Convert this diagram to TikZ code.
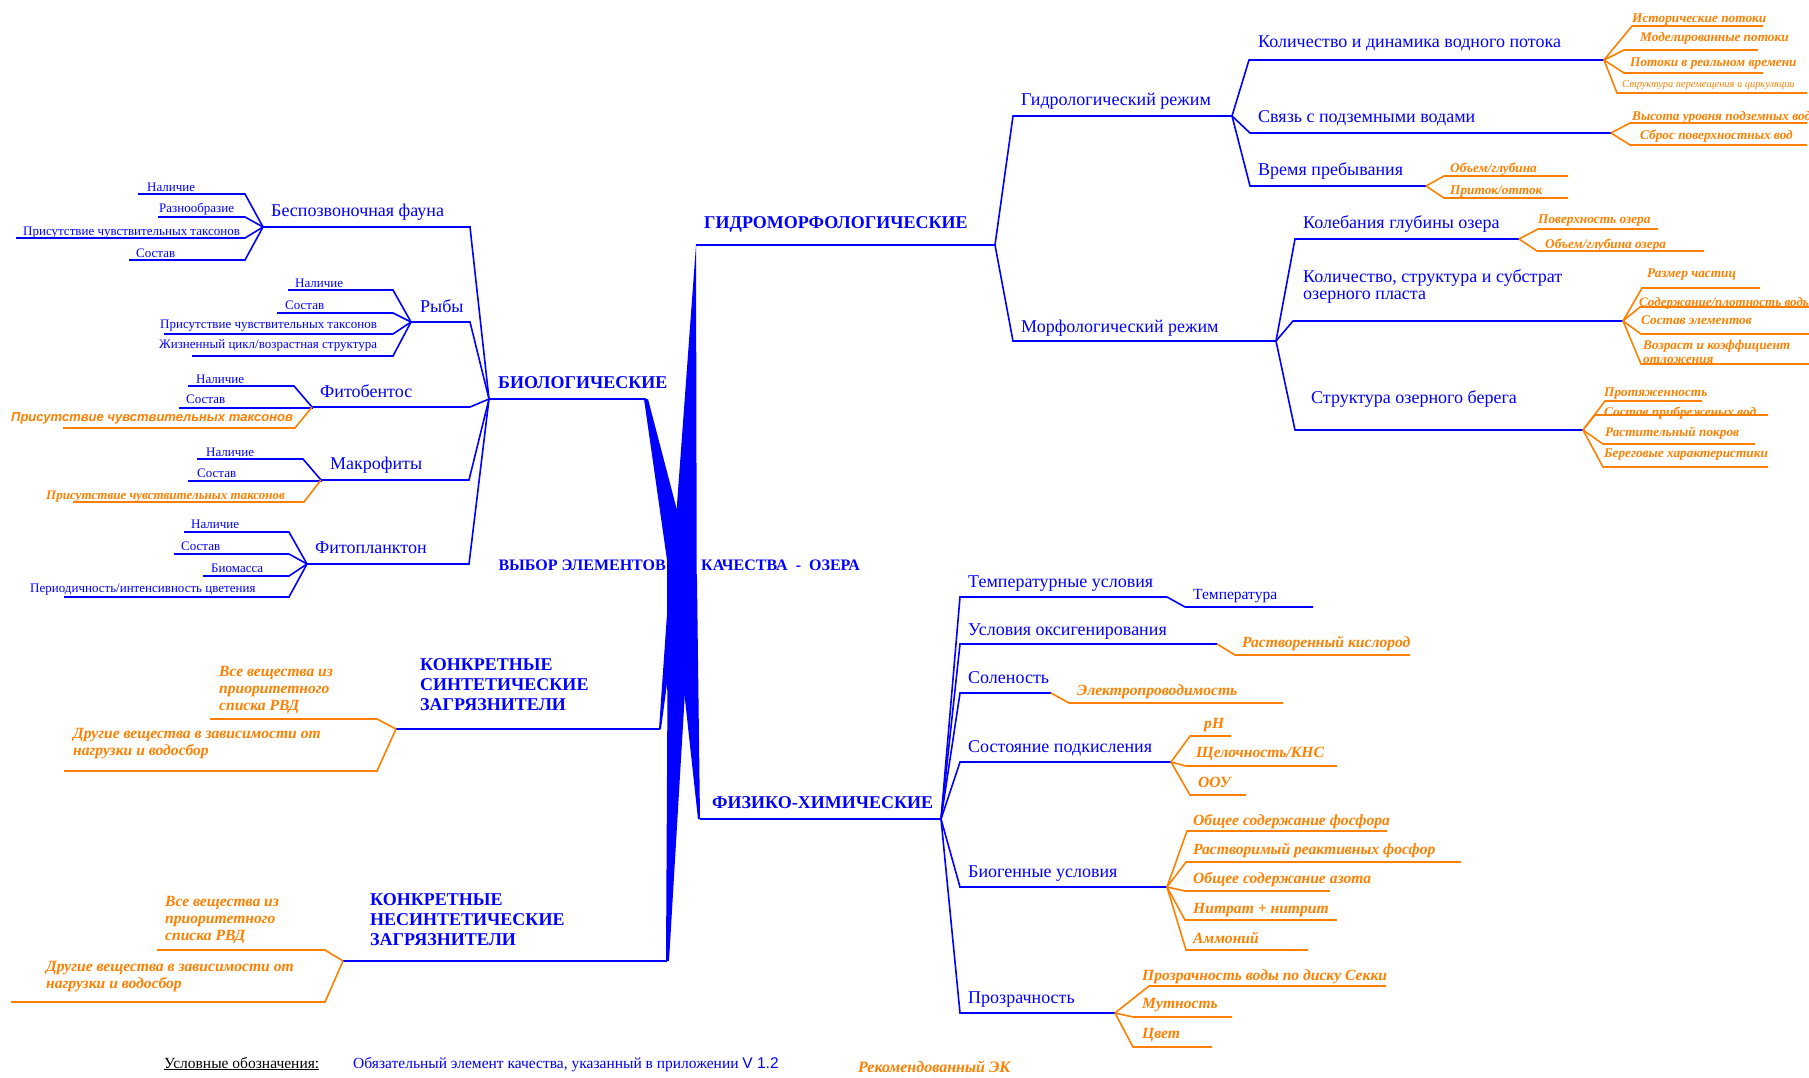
\documentclass[tikz,border=0pt]{standalone}
\usepackage{fontspec}
\usetikzlibrary{calc}
\setmainfont{Liberation Serif}
\newfontfamily\mmsans{Liberation Sans}
\definecolor{bluC}{RGB}{0,0,255}
\definecolor{orC}{RGB}{255,128,0}
% #1 name, #2 parent fork, #3 x at parent side, #4 x at free end, #5 line y, #6 text x, #7 text baseline y (last line), #8 text style, #9 text
\newcommand\mmB[9]{%
  \coordinate (#1a) at (#3,#5);
  \coordinate (#1b) at (#4,#5);
  \node[anchor=base west,#8] (#1) at (#6,#7) {#9};
  \draw[lnB] (#2) -- (#1a) -- (#1b);}
\newcommand\mmO[9]{%
  \coordinate (#1a) at (#3,#5);
  \coordinate (#1b) at (#4,#5);
  \node[anchor=base west,#8] (#1) at (#6,#7) {#9};
  \draw[lnO] (#2) -- (#1a) -- (#1b);}
\tikzset{
  lnB/.style={draw=bluC, line width=1.6pt},
  lnO/.style={draw=orC, line width=1.6pt},
  wedge/.style={fill=bluC},
  tL1/.style={inner sep=0pt, text=bluC, align=left, font=\bfseries\fontsize{18}{19.8}\selectfont},
  tC/.style={inner sep=0pt, text=bluC, font=\bfseries\fontsize{16}{18}\selectfont},
  tL2/.style={inner sep=0pt, text=bluC, align=left, font=\fontsize{18}{17}\selectfont},
  tS13/.style={inner sep=0pt, text=bluC, font=\fontsize{13}{15}\selectfont},
  tT15/.style={inner sep=0pt, text=bluC, font=\fontsize{15.5}{17}\selectfont},
  oS14/.style={inner sep=0pt, text=orC, align=left, font=\bfseries\itshape\fontsize{13.3}{14}\selectfont},
  oS13/.style={inner sep=0pt, text=orC, align=left, font=\bfseries\itshape\fontsize{13}{14}\selectfont},
  oT10/.style={inner sep=0pt, text=orC, font=\itshape\fontsize{10.4}{12}\selectfont},
  oM16/.style={inner sep=0pt, text=orC, align=left, font=\bfseries\itshape\fontsize{15.6}{16.7}\selectfont},
  oSans/.style={inner sep=0pt, text=orC, font=\mmsans\bfseries\itshape\fontsize{13}{15}\selectfont},
  lgK/.style={inner sep=0pt, text=black, font=\fontsize{15.5}{17}\selectfont},
  lgB/.style={inner sep=0pt, text=bluC, font=\fontsize{15.5}{17}\selectfont},
  lgO/.style={inner sep=0pt, text=orC, font=\bfseries\itshape\fontsize{16}{17}\selectfont}
}
\begin{document}
\begin{tikzpicture}[x=1pt,y=-1pt]
\useasboundingbox (0,0) rectangle (1809,1078);
\clip (0,0) rectangle (1809,1078);
\fill[white] (0,0) rectangle (1809,1078);

% ---------- main branches (apex / fork coordinates)
\coordinate (gA) at (696,245); \coordinate (gF) at (995,245);
\coordinate (bA) at (646,399); \coordinate (bF) at (489,399);
\coordinate (sA) at (660,729); \coordinate (sF) at (396,729);
\coordinate (pA) at (700,819); \coordinate (pF) at (941,819);
\coordinate (nA) at (667,961); \coordinate (nF) at (343,961);

% ---------- central tapered trunk
\fill[wedge] (gA) -- (697,690) -- (670,600) -- cycle;
\fill[wedge] ($(bA)+(-2,0)$) -- ($(bA)+(2,0)$) -- (690,560) -- (667,560) -- cycle;
\fill[wedge] ($(pA)+(-2,0)$) -- (pA) -- (697,580) -- (672,580) -- cycle;
\fill[wedge] ($(nA)+(-1,0)$) -- ($(nA)+(2,0)$) -- (691,590) -- (668,590) -- cycle;
\fill[wedge] ($(sA)+(-1,0)$) -- ($(sA)+(1,0)$) -- (678,600) -- (668,600) -- cycle;
\fill[wedge] (667,545) rectangle (696,690);

\node[tC,anchor=base east] (cL) at (666,570) {ВЫБОР ЭЛЕМЕНТОВ};
\node[tC,anchor=base west] (cR) at (701,570) {КАЧЕСТВА\hspace{4pt} - \hspace{4pt}ОЗЕРА};

\draw[lnB] (gA) -- (gF);
\draw[lnB] (bA) -- (bF);
\draw[lnB] (sA) -- (sF);
\draw[lnB] (pA) -- (pF);
\draw[lnB] (nA) -- (nF);
\node[tL1,anchor=base west] (gT) at (704,228) {ГИДРОМОРФОЛОГИЧЕСКИЕ};
\node[tL1,anchor=base west] (bT) at (498,388) {БИОЛОГИЧЕСКИЕ};
\node[tL1,anchor=base west] (pT) at (712,808) {ФИЗИКО-ХИМИЧЕСКИЕ};
\node[tL1,anchor=base west] (sT) at (420,710) {КОНКРЕТНЫЕ\\СИНТЕТИЧЕСКИЕ\\ЗАГРЯЗНИТЕЛИ};
\node[tL1,anchor=base west] (nT) at (370,945) {КОНКРЕТНЫЕ\\НЕСИНТЕТИЧЕСКИЕ\\ЗАГРЯЗНИТЕЛИ};

% ---------- hydromorphological
\mmB{hyd}{gF}{1013}{1232}{116}{1021}{106}{tL2}{Гидрологический режим}
\mmB{mor}{gF}{1013}{1276}{341}{1021}{332}{tL2}{Морфологический режим}

\mmB{kol}{hydb}{1249}{1604}{60}{1258}{48}{tL2}{Количество и динамика водного потока}
\mmB{svz}{hydb}{1250}{1611}{133}{1258}{123}{tL2}{Связь с подземными водами}
\mmB{vrm}{hydb}{1250}{1426}{186}{1258}{176}{tL2}{Время пребывания}

\mmO{ist}{kolb}{1632}{1763}{26}{1632}{23}{oS14}{Исторические потоки}
\mmO{mod}{kolb}{1624}{1758}{50}{1640}{42}{oS14}{Моделированные потоки}
\mmO{rvr}{kolb}{1624}{1763}{73}{1630}{67}{oS14}{Потоки в реальном времени}
\mmO{str}{kolb}{1617}{1807}{93}{1622}{88}{oT10}{Структура перемещения и циркуляции}

\mmO{vys}{svzb}{1630}{1807}{123}{1632}{121}{oS14}{Высота уровня подземных вод}
\mmO{sbr}{svzb}{1630}{1807}{145}{1640}{140}{oS14}{Сброс поверхностных вод}

\mmO{obg}{vrmb}{1444}{1568}{176}{1450}{173}{oS14}{Объем/глубина}
\mmO{pri}{vrmb}{1444}{1568}{198}{1450}{195}{oS14}{Приток/отток}

\mmB{kgo}{morb}{1295}{1519}{239}{1303}{229}{tL2}{Колебания глубины озера}
\mmB{kss}{morb}{1293}{1623}{321}{1303}{299}{tL2}{Количество, структура и субстрат\\озерного пласта}
\mmB{sob}{morb}{1295}{1583}{430}{1311}{403}{tL2}{Структура озерного берега}

\mmO{pov}{kgob}{1538}{1658}{229}{1538}{223}{oS14}{Поверхность озера}
\mmO{obo}{kgob}{1537}{1704}{251}{1545}{248}{oS14}{Объем/глубина озера}

\mmO{raz}{kssb}{1642}{1760}{288}{1647}{277}{oS14}{Размер частиц}
\mmO{sod}{kssb}{1640}{1809}{307}{1639}{306}{oS13}{Содержание/плотность воды}
\mmO{sel}{kssb}{1641}{1809}{334}{1641}{324}{oS14}{Состав элементов}
\mmO{voz}{kssb}{1641}{1809}{364}{1643}{363}{oS14}{Возраст и коэффициент\\отложения}

\mmO{prt}{sobb}{1605}{1702}{401}{1604}{396}{oS14}{Протяженность}
\mmO{spv}{sobb}{1595}{1768}{415}{1604}{416}{oS14}{Состав прибреженых вод}
\mmO{rpk}{sobb}{1603}{1755}{444}{1605}{436}{oS14}{Растительный покров}
\mmO{bxr}{sobb}{1603}{1768}{467}{1604}{457}{oS14}{Береговые характеристики}

% ---------- biological
\mmB{bes}{bF}{470}{263}{227}{271}{217}{tL2}{Беспозвоночная фауна}
\mmB{ryb}{bF}{470}{411}{322}{420}{312}{tL2}{Рыбы}
\mmB{fbe}{bF}{470}{312}{407}{320}{397}{tL2}{Фитобентос}
\mmB{mak}{bF}{469}{321}{480}{330}{469}{tL2}{Макрофиты}
\mmB{fpl}{bF}{469}{307}{564}{315}{553}{tL2}{Фитопланктон}

\mmB{b1}{besb}{245}{138}{194}{147}{192}{tS13}{Наличие}
\mmB{b2}{besb}{245}{158}{217}{159}{212}{tS13}{Разнообразие}
\mmB{b3}{besb}{245}{16}{238}{23}{235}{tS13}{Присутствие чувствительных таксонов}
\mmB{b4}{besb}{245}{129}{260}{136}{257}{tS13}{Состав}

\mmB{r1}{rybb}{393}{288}{290}{295}{287}{tS13}{Наличие}
\mmB{r2}{rybb}{393}{277}{313}{285}{309}{tS13}{Состав}
\mmB{r3}{rybb}{393}{164}{334}{160}{328}{tS13}{Присутствие чувствительных таксонов}
\mmB{r4}{rybb}{393}{192}{356}{159}{348}{tS13}{Жизненный цикл/возрастная структура}

\mmB{f1}{fbeb}{294}{188}{386}{196}{383}{tS13}{Наличие}
\mmB{f2}{fbeb}{312}{179}{408}{186}{403}{tS13}{Состав}
\mmO{f3}{fbeb}{295}{63}{428}{11}{421}{oSans}{Присутствие чувствительных таксонов}

\mmB{m1}{makb}{303}{197}{459}{206}{456}{tS13}{Наличие}
\mmB{m2}{makb}{321}{188}{481}{197}{477}{tS13}{Состав}
\mmO{m3}{makb}{304}{73}{502}{46}{499}{oS13}{Присутствие чувствительных таксонов}

\mmB{p1}{fplb}{289}{184}{532}{191}{528}{tS13}{Наличие}
\mmB{p2}{fplb}{289}{174}{554}{181}{550}{tS13}{Состав}
\mmB{p3}{fplb}{289}{203}{576}{211}{572}{tS13}{Биомасса}
\mmB{p4}{fplb}{289}{64}{597}{30}{592}{tS13}{Периодичность/интенсивность цветения}

% ---------- pollutants
\mmO{s1}{sF}{377}{210}{719}{219}{710}{oM16}{Все вещества из\\приоритетного\\списка РВД}
\mmO{s2}{sF}{377}{64}{771}{73}{755}{oM16}{Другие вещества в зависимости от\\нагрузки и водосбор}
\mmO{n1}{nF}{325}{157}{950}{165}{940}{oM16}{Все вещества из\\приоритетного\\списка РВД}
\mmO{n2}{nF}{325}{11}{1002}{46}{988}{oM16}{Другие вещества в зависимости от\\нагрузки и водосбор}

% ---------- physico-chemical
\mmB{tu}{pF}{960}{1167}{597}{968}{587}{tL2}{Температурные условия}
\mmB{uo}{pF}{960}{1217}{644}{968}{635}{tL2}{Условия оксигенирования}
\mmB{sol}{pF}{960}{1051}{693}{968}{683}{tL2}{Соленость}
\mmB{sp}{pF}{960}{1171}{762}{968}{752}{tL2}{Состояние подкисления}
\mmB{bu}{pF}{960}{1167}{887}{968}{877}{tL2}{Биогенные условия}
\mmB{pr}{pF}{960}{1115}{1013}{968}{1003}{tL2}{Прозрачность}

\mmB{tem}{tub}{1185}{1313}{607}{1193}{599}{tT15}{Температура}
\mmO{rk}{uob}{1235}{1410}{655}{1242}{647}{oM16}{Растворенный кислород}
\mmO{el}{solb}{1069}{1283}{703}{1077}{695}{oM16}{Электропроводимость}
\mmO{ph}{spb}{1190}{1231}{736}{1204}{728}{oM16}{pH}
\mmO{shch}{spb}{1186}{1337}{766}{1196}{757}{oM16}{Щелочность/КНС}
\mmO{oou}{spb}{1190}{1246}{795}{1198}{787}{oM16}{ООУ}
\mmO{ph1}{bub}{1187}{1387}{831}{1193}{825}{oM16}{Общее содержание фосфора}
\mmO{ph2}{bub}{1186}{1461}{862}{1193}{854}{oM16}{Растворимый реактивных фосфор}
\mmO{az}{bub}{1185}{1330}{891}{1193}{883}{oM16}{Общее содержание азота}
\mmO{nit}{bub}{1185}{1337}{920}{1193}{913}{oM16}{Нитрат + нитрит}
\mmO{amm}{bub}{1186}{1308}{950}{1193}{943}{oM16}{Аммоний}
\mmO{sek}{prb}{1149}{1386}{986}{1142}{980}{oM16}{Прозрачность воды по диску Секки}
\mmO{mut}{prb}{1133}{1232}{1017}{1142}{1008}{oM16}{Мутность}
\mmO{cv}{prb}{1133}{1212}{1047}{1142}{1038}{oM16}{Цвет}

% ---------- legend
\node[lgK,anchor=base west] (lg1) at (164,1068) {\underline{Условные обозначения:}};
\node[lgB,anchor=base west] (lg2) at (353,1068) {Обязательный элемент качества, указанный в приложении {\mmsans V 1.2}};
\node[lgO,anchor=base west] (lg3) at (858,1072) {Рекомендованный ЭК};
\end{tikzpicture}
\end{document}
